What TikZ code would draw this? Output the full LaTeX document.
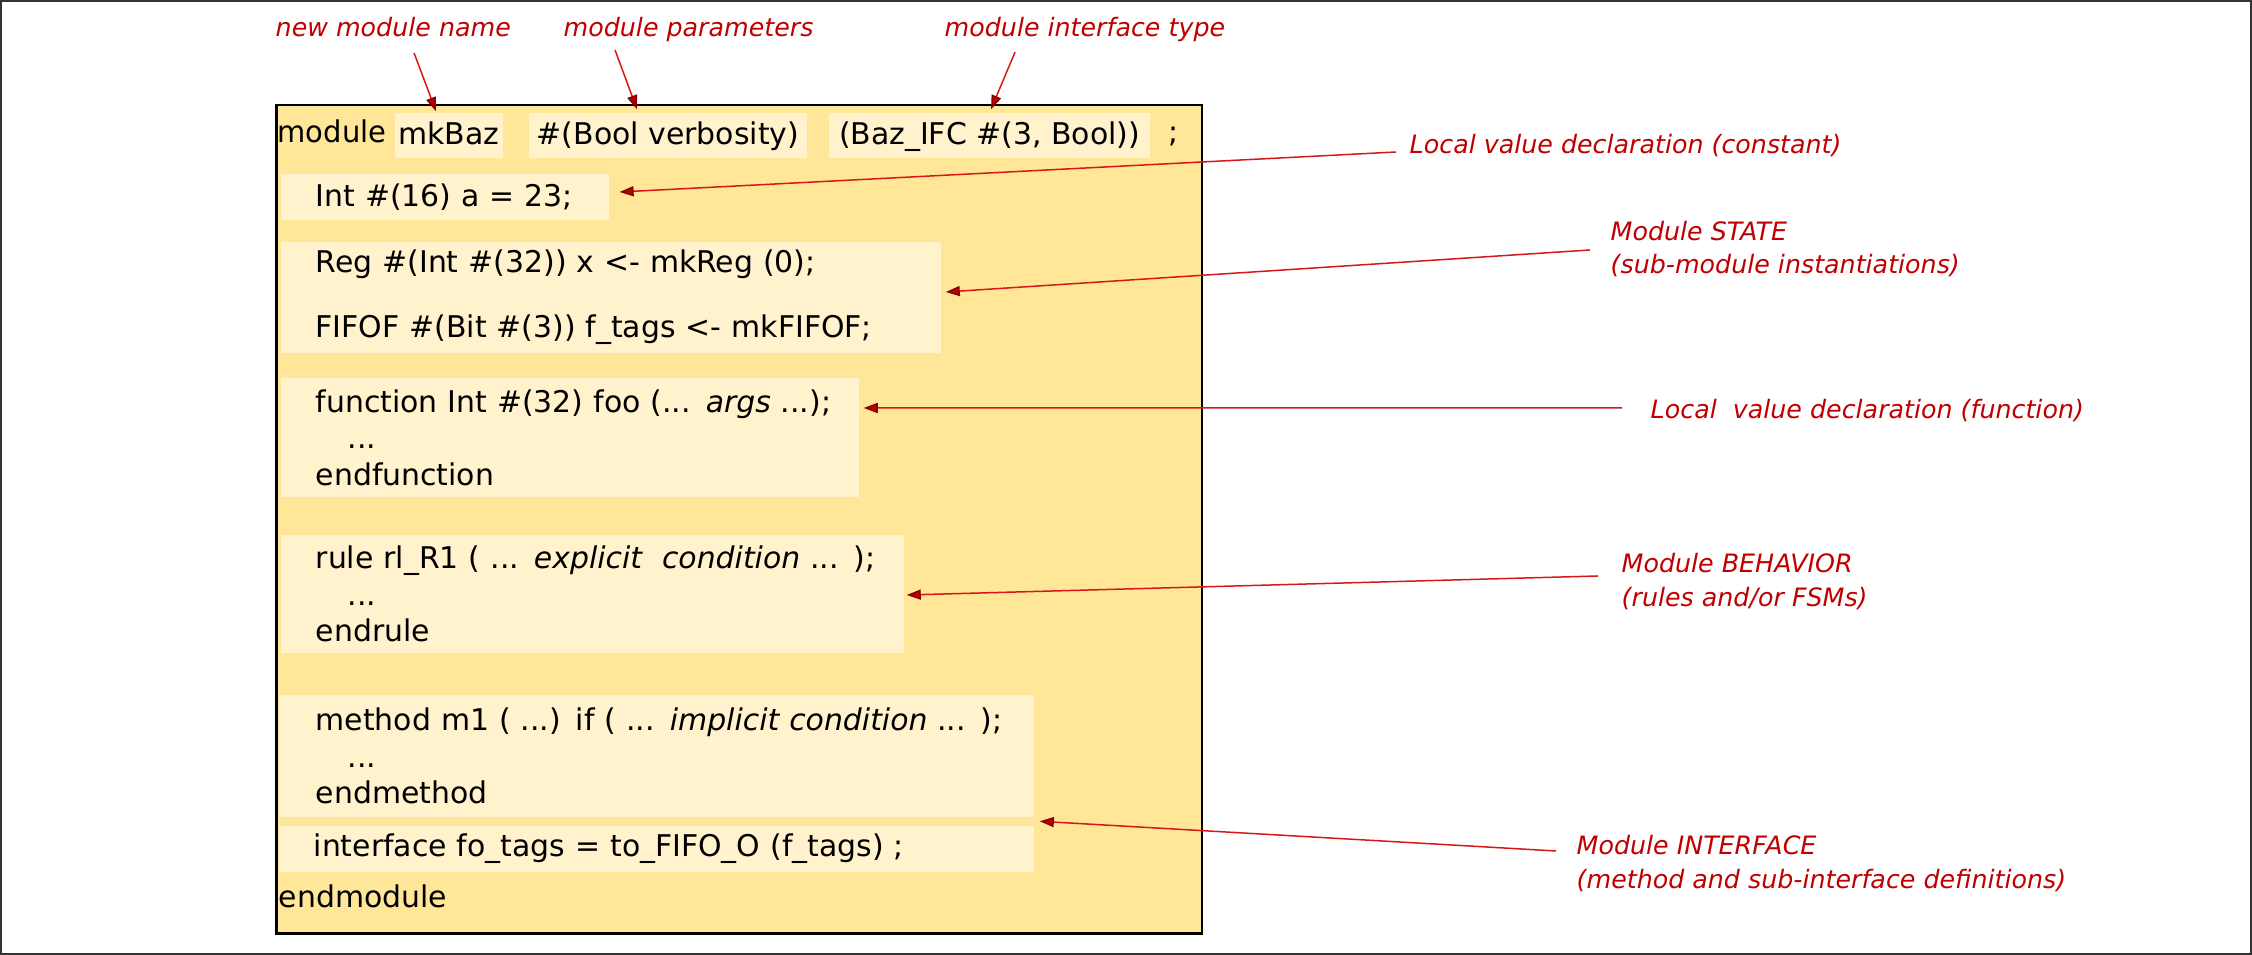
\documentclass[tikz,border=0pt]{standalone}
\usepackage{fontspec}
\setmainfont{DejaVu Sans}
\usetikzlibrary{arrows.meta, positioning}
\tikzset{>=stealth}
\definecolor{modyel}{HTML}{FFE699}
\definecolor{blkyel}{HTML}{FFF2CC}
\definecolor{lblred}{HTML}{C00000}
\definecolor{lnred}{HTML}{D81818}
\newcommand{\codefont}{\fontsize{8.5}{10.4}\selectfont}
\newcommand{\lblfont}{\fontsize{7.2}{9.4}\selectfont\itshape}

\begin{document}
\begin{tikzpicture}[x=0.01cm, y=-0.01cm,
	modbox/.style={draw=black, line width=0.025cm, fill=modyel, inner sep=0},
	blk/.style={fill=blkyel, inner xsep=0.35cm, inner ysep=0, align=left, anchor=west, font=\codefont},
	kw/.style={fill=blkyel, inner sep=0, minimum height=0.45cm, text height=0.76em, text depth=0.24em, font=\codefont},
	txt/.style={inner sep=0, anchor=base west, font=\codefont},
	lbl/.style={text=lblred, inner sep=0, align=left, anchor=base west, font=\lblfont},
	ann/.style={draw=lnred, line width=0.015cm, -{Triangle[length=0.14cm, width=0.1cm, fill=lblred, color=lblred!70!black]}}]

		\useasboundingbox (0,0) rectangle (2252,955);
		\draw[black!80, line width=0.02cm] (1,1) rectangle (2251,954);

		\node[modbox, minimum width=9.25cm, minimum height=8.28cm, anchor=north west] (mod) at (275,104) {};

		\node[txt, xscale=0.97] (kMod) at (277,143) {module};
		\node[kw, minimum width=1.08cm] (kName) at (449,135.5) {mkBaz};
		\node[kw, minimum width=2.78cm] (kPar) at (668,135.5) {\#(Bool verbosity)};
		\node[kw, minimum width=3.21cm] (kIfc) at (989.5,135.5) {(Baz\_IFC \#(3, Bool))};
		\node[txt] (kSemi) at (1168,143) {;};

		\node[blk, text width=2.58cm, minimum height=0.46cm] (cInt) at (280,197) {Int \#(16) a = 23;};
		\node[blk, text width=5.90cm, minimum height=1.11cm] (cState) at (280,297.5)
			{Reg \#(Int \#(32)) x <- mkReg (0);\\[8.1pt] \mbox{FIFOF \#(Bit \#(3)) f\_tags <- mkFIFOF;}};
		\node[blk, text width=5.08cm, minimum height=1.19cm] (cFunc) at (280,437.5)
			{\mbox{function Int \#(32) foo (... \textit{args} ...);}\\ \hspace*{0.32cm}...\\ endfunction};
		\node[blk, text width=5.53cm, minimum height=1.18cm] (cRule) at (280,594)
			{\mbox{rule rl\_R1 ( ... \textit{explicit\ \ condition} ... );}\\ \hspace*{0.32cm}...\\ endrule};
		\node[blk, inner xsep=0.37cm, text width=6.81cm, minimum height=1.22cm] (cMeth) at (278,756)
			{\mbox{method m1 ( ...) if ( ... \textit{implicit condition} ... );}\\ \hspace*{0.32cm}...\\ endmethod};
		\node[blk, text width=6.85cm, minimum height=0.46cm] (cIntf) at (278,849)
			{\mbox{interface fo\_tags = to\_FIFO\_O (f\_tags) ;}};
		\node[txt] (kEnd) at (278,907) {endmodule};

		\node[lbl] (lblName) at (275,37) {new module name};
		\node[lbl] (lblPar) at (563,37) {module parameters};
		\node[lbl] (lblIfc) at (944,37) {module interface type};
		\node[lbl] (lblConst) at (1409,154) {Local value declaration (constant)};
		\node[lbl] (lblState) at (1610,274) {Module STATE\\(sub-module instantiations)};
		\node[lbl] (lblFunc) at (1650,419) {Local\ \ value declaration (function)};
		\node[lbl] (lblBeh) at (1621,606) {Module BEHAVIOR\\(rules and/or FSMs)};
		\node[lbl] (lblIntf) at (1576,888) {Module INTERFACE\\(method and sub-interface definitions)};

		\draw[ann] ([xshift=1.39cm, yshift=-0.16cm]lblName.base west) -- ([xshift=-0.13cm, yshift=0.01cm]kName.north);
		\draw[ann] ([xshift=0.52cm, yshift=-0.13cm]lblPar.base west) -- ([xshift=-0.31cm, yshift=0.03cm]kPar.north);
		\draw[ann] ([xshift=0.71cm, yshift=-0.15cm]lblIfc.base west) -- ([xshift=0.015cm, yshift=0.03cm]kIfc.north);
		\draw[ann] ([xshift=-0.13cm, yshift=0.02cm]lblConst.base west) -- ([xshift=0.10cm, yshift=0.05cm]cInt.east);
		\draw[ann] ([xshift=-0.20cm, yshift=0.24cm]lblState.base west) -- ([xshift=0.04cm, yshift=0.055cm]cState.east);
		\draw[ann] ([xshift=-0.28cm, yshift=0.11cm]lblFunc.base west) -- ([xshift=0.04cm, yshift=0.295cm]cFunc.east);
		\draw[ann] ([xshift=-0.23cm, yshift=0.30cm]lblBeh.base west) -- ([xshift=0.02cm, yshift=-0.01cm]cRule.east);
		\draw[ann] ([xshift=-0.20cm, yshift=0.37cm]lblIntf.base west) -- ([xshift=0.05cm, yshift=0.04cm]cIntf.north east);
		\end{tikzpicture}
\end{document}
